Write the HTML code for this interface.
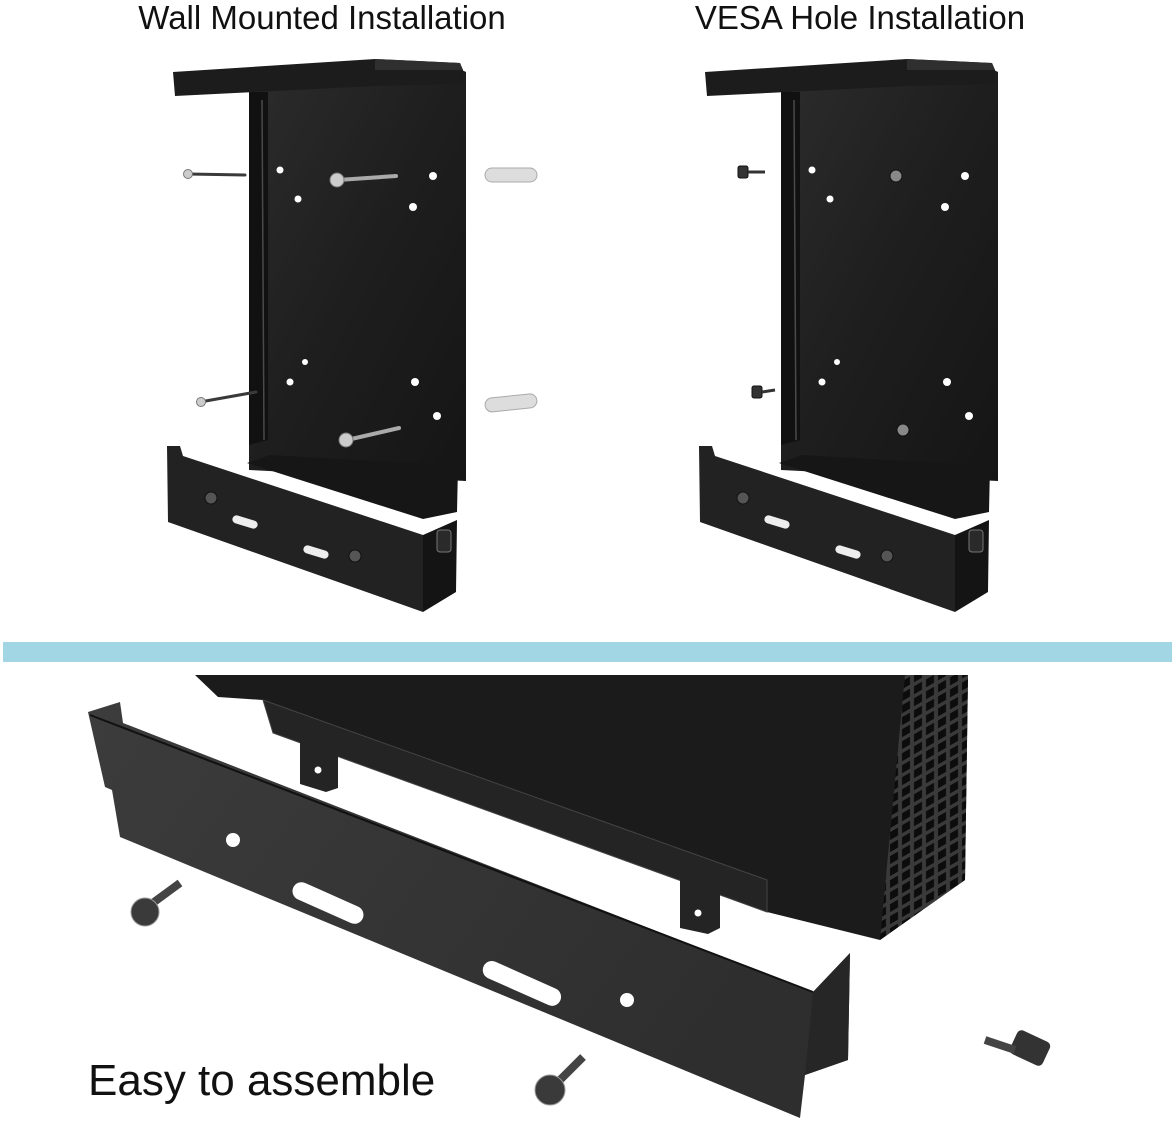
<!DOCTYPE html>
<html><head><meta charset="utf-8"><style>
html,body{margin:0;padding:0;background:#fff;}
svg{display:block;}
text{font-family:"Liberation Sans",Arial,sans-serif;}
</style></head><body>
<svg width="1175" height="1123" viewBox="0 0 1175 1123" xmlns="http://www.w3.org/2000/svg">
<defs>
<linearGradient id="g1" x1="0" y1="0" x2="1" y2="1"><stop offset="0" stop-color="#2c2c2c"/><stop offset="0.5" stop-color="#1e1e1e"/><stop offset="1" stop-color="#151515"/></linearGradient>
<linearGradient id="gp" x1="0" y1="0" x2="1" y2="0.4"><stop offset="0" stop-color="#3c3c3c"/><stop offset="0.5" stop-color="#353535"/><stop offset="1" stop-color="#2e2e2e"/></linearGradient>
<pattern id="grid" width="12" height="12" patternUnits="userSpaceOnUse" patternTransform="skewY(-30)">
  <rect width="12" height="12" fill="#3a3a3a"/><rect x="2" y="2" width="8" height="8" fill="#0c0c0c"/>
</pattern>
<g id="br">
  <polygon points="249,92 462,70 466,72 466,481 249,470" fill="url(#g1)"/>
  <polygon points="249,92 268,92 268,440 249,445" fill="#111"/>
  <line x1="262" y1="100" x2="264" y2="440" stroke="#4a4a4a" stroke-width="1.5"/>
  <polygon points="173,72 375,59 460,63 463,70 463,84 375,86 175,96" fill="#1c1c1c"/>
  <polygon points="375,59 460,63 463,70 375,70" fill="#2f2f2f"/>
  <g fill="#fff">
    <circle cx="280" cy="170" r="3.5"/><circle cx="433" cy="176" r="4"/>
    <circle cx="298" cy="199" r="3.5"/><circle cx="413" cy="207" r="4"/>
    <circle cx="305" cy="362" r="3"/><circle cx="290" cy="382" r="3.5"/><circle cx="415" cy="382" r="4"/>
    <circle cx="437" cy="416" r="4"/>
  </g>
  <polygon points="247,463 270,455 458,466 457,512 423,519" fill="#161616"/>
  <polygon points="167,446 180,446 183,456 423,535 423,612 168,522" fill="#222"/>
  <polygon points="423,535 457,520 456,592 423,612" fill="#141414"/>
  <rect x="232" y="518" width="26" height="8" rx="4" fill="#eee" transform="rotate(17 245 522)"/>
  <rect x="303" y="548" width="26" height="8" rx="4" fill="#eee" transform="rotate(17 316 552)"/>
  <circle cx="211" cy="498" r="6" fill="#555" stroke="#111"/>
  <circle cx="355" cy="556" r="6" fill="#555" stroke="#111"/>
  <rect x="437" y="530" width="14" height="22" rx="3" fill="#2a2a2a" stroke="#777"/>
</g>
</defs>

<text x="322" y="29" font-size="33" text-anchor="middle" fill="#111">Wall Mounted Installation</text>
<text x="860" y="29" font-size="33" text-anchor="middle" fill="#111">VESA Hole Installation</text>

<use href="#br"/>
<use href="#br" transform="translate(532,0)"/>

<g stroke="#3a3a3a" stroke-width="3" stroke-linecap="round">
  <line x1="188" y1="174" x2="245" y2="175"/>
  <line x1="200" y1="402" x2="256" y2="392"/>
</g>
<g stroke="#aaa" stroke-width="4" stroke-linecap="round">
  <line x1="338" y1="180" x2="396" y2="176"/>
  <line x1="347" y1="440" x2="399" y2="428"/>
</g>
<g fill="#ccc" stroke="#777">
  <circle cx="188" cy="174" r="4.5"/><circle cx="337" cy="180" r="7"/>
  <circle cx="201" cy="402" r="4.5"/><circle cx="346" cy="440" r="7"/>
</g>
<g fill="#ddd" stroke="#aaa">
  <rect x="485" y="168" width="52" height="14" rx="7"/>
  <rect x="485" y="396" width="52" height="14" rx="7" transform="rotate(-6 510 403)"/>
</g>
<g fill="#333" stroke="#111">
  <rect x="738" y="166" width="10" height="12" rx="2"/><line x1="748" y1="172" x2="765" y2="172" stroke="#333" stroke-width="3"/>
  <rect x="752" y="386" width="10" height="12" rx="2"/><line x1="762" y1="392" x2="775" y2="390" stroke="#333" stroke-width="3"/>
  <circle cx="896" cy="176" r="6" fill="#888"/><circle cx="903" cy="430" r="6" fill="#888"/>
</g>

<rect x="3" y="642" width="1169" height="20" fill="#a3d6e5"/>

<!-- case -->
<polygon points="195,675 968,675 965,880 880,940 767,912 767,880 273,733 263,700 218,697" fill="#1b1b1b"/>
<polygon points="905,675 968,675 965,880 880,940" fill="url(#grid)"/>
<polygon points="263,700 767,880 767,912 273,733" fill="#242424" stroke="#444"/>
<polygon points="300,740 338,752 338,788 326,792 300,784" fill="#242424"/>
<circle cx="318" cy="770" r="3.5" fill="#fff"/>
<polygon points="680,880 720,893 720,928 708,934 680,928" fill="#242424"/>
<circle cx="698" cy="913" r="3.5" fill="#fff"/>
<!-- front plate -->
<polygon points="88,712 120,702 123,723 813,992 850,953 848,1060 805,1075 800,1118 120,837 112,790 105,787" fill="url(#gp)"/>
<polygon points="813,992 850,953 848,1060 805,1075" fill="#262626"/>
<line x1="90" y1="715" x2="813" y2="992" stroke="#111" stroke-width="2"/>
<circle cx="233" cy="840" r="7" fill="#fff"/>
<rect x="290" y="894" width="76" height="18" rx="9" fill="#fff" transform="rotate(24 328 903)"/>
<rect x="480" y="974" width="84" height="18" rx="9" fill="#fff" transform="rotate(24 521 983)"/>
<circle cx="627" cy="1000" r="7" fill="#fff"/>
<!-- screws -->
<line x1="150" y1="905" x2="180" y2="883" stroke="#444" stroke-width="8"/>
<circle cx="145" cy="912" r="14" fill="#3a3a3a" stroke="#999"/>
<line x1="556" y1="1084" x2="583" y2="1057" stroke="#444" stroke-width="8"/>
<circle cx="550" cy="1090" r="15" fill="#3a3a3a" stroke="#999"/>
<rect x="1012" y="1035" width="36" height="26" rx="5" fill="#333" transform="rotate(25 1030 1048)"/>
<line x1="985" y1="1040" x2="1015" y2="1050" stroke="#444" stroke-width="8"/>

<text x="88" y="1095" font-size="44" fill="#111">Easy to assemble</text>
</svg>
</body></html>
